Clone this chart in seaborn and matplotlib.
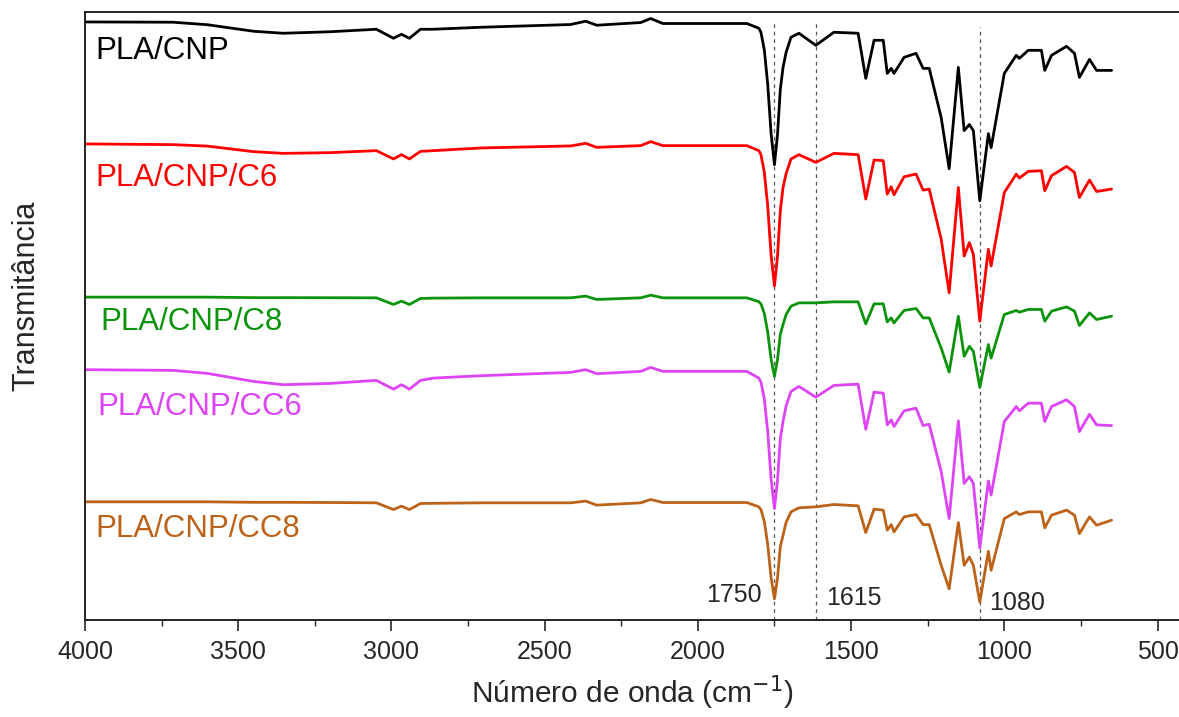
import matplotlib
matplotlib.use("Agg")

import matplotlib.pyplot as plt
import pandas as pd
import seaborn as sns
from matplotlib.ticker import MultipleLocator

# wavenumbers (cm-1) of the points
wavenumber = [4000, 3712, 3600, 3450, 3353, 3200, 3049, 2993, 2967, 2941,
              2905, 2863, 2706, 2415, 2366, 2330, 2186, 2154, 2114, 1840,
              1801, 1794, 1783, 1772, 1761, 1750, 1740, 1731, 1722, 1712,
              1696, 1670, 1615, 1556, 1477, 1452, 1425, 1395, 1382, 1369,
              1360, 1327, 1288, 1265, 1245, 1206, 1180, 1150, 1131, 1114,
              1101, 1080, 1052, 1043, 1000, 961, 951, 922, 879, 868,
              846, 797, 771, 755, 722, 699, 650]

# stacked transmittance (a.u.)
t_cnp = [596.3, 596, 593.5, 587, 585, 586.5, 589, 580, 584, 580,
         589, 589, 591, 593.7, 597, 593, 595.7, 599.7, 594.7, 594.7,
         590, 585.9, 568.2, 534.2, 485.3, 454, 484.1, 528.7, 551, 566,
         581, 585, 573, 586, 585, 540, 578, 578, 545, 550,
         545, 561, 565, 550, 550, 501, 450, 551, 488, 494,
         488, 418, 485, 471, 545, 563, 560, 568, 568, 548,
         563, 572, 565, 541, 559, 548, 548]

t_c6 = [474.7, 474, 472.5, 467, 465.3, 466, 468, 459.7, 464, 459.7,
        467.3, 468, 470.7, 472.7, 475.3, 471.3, 473, 477, 473, 473,
        468, 464, 446.4, 412.7, 364, 333, 363.1, 407.7, 431.3, 445,
        459.7, 464, 456.3, 465.3, 464, 419.7, 458.7, 458, 424.7, 432,
        424, 442, 444.7, 428.7, 429.7, 379.7, 326.3, 431.3, 363, 376.3,
        364.7, 298, 369.7, 353, 426.3, 444.7, 440.7, 447.3, 448, 428,
        443, 452.3, 446.3, 421.3, 438.7, 427.3, 429.7]

t_c8 = [322, 322, 322, 321.5, 321.5, 321.4, 321.3, 314.7, 318, 314.7,
        320.7, 321, 321.3, 321.3, 323, 319.7, 321.3, 324, 321.3, 321.3,
        317.5, 315.3, 305.6, 287, 260.1, 243, 259.9, 284.8, 294.7, 304.6,
        313, 316.3, 316.3, 317.3, 317.3, 295.3, 315.3, 315.3, 297.3, 301.3,
        296.3, 308.7, 310.7, 301.3, 301.3, 271.3, 247.3, 303, 263, 273,
        268, 232, 274.7, 261.3, 304.7, 308.7, 307, 309.7, 309.7, 298,
        308, 312.3, 308, 293.7, 306.3, 299.7, 303]

t_cc6 = [249.7, 249, 246, 238, 234.7, 236, 239, 230.3, 234.7, 230.3,
         239, 241.3, 243.7, 247, 249.7, 245.7, 248, 252, 248, 248,
         241.3, 237.4, 220.5, 188, 141.2, 111.3, 139.3, 180.7, 198, 213.5,
         228, 233, 222.3, 234, 235.3, 190.3, 227.3, 226.3, 194.7, 199.7,
         193, 208.7, 211.3, 194, 195.3, 148, 101.3, 198.7, 136.3, 143,
         136.3, 72, 138.7, 124.7, 198, 213, 208.7, 216.3, 216.3, 198,
         213, 219.7, 213, 188, 205.3, 194.7, 194]

t_cc8 = [118, 118, 118, 117.5, 117.5, 117.3, 117, 110.3, 113.7, 110.3,
         116.3, 116.5, 117, 117, 118.7, 114.7, 117, 120.3, 117.3, 117.3,
         113, 110.2, 98.3, 75.4, 42.4, 21.3, 42.2, 73, 84.7, 97.5,
         108, 112, 113, 115.3, 114, 87.3, 110.7, 109.7, 89.7, 95.3,
         88, 103, 105.3, 95.3, 95.3, 54.7, 31.3, 97.3, 54.7, 63,
         54.7, 18, 68.7, 49.7, 101.3, 108, 105.3, 108, 108, 92,
         104.7, 109.7, 104.7, 86.3, 103, 94.7, 99.7]

samples = ["PLA/CNP", "PLA/CNP/C6", "PLA/CNP/C8", "PLA/CNP/CC6", "PLA/CNP/CC8"]
colors = ["#000000", "#ff0000", "#0b940b", "#dd44f5", "#bd6219"]
marked_bands = [1750, 1615, 1080]
band_labels = ["1750", "1615", "1080"]

series = [t_cnp, t_c6, t_c8, t_cc6, t_cc8]
df = pd.concat(
    [pd.DataFrame({"wavenumber": wavenumber, "T": s, "sample": name})
     for name, s in zip(samples, series)],
    ignore_index=True,
)

sns.set_style("ticks")
plt.rcParams["font.family"] = ["Liberation Sans", "DejaVu Sans"]

fig = plt.figure(figsize=(11.79, 7.17), dpi=100)
ax = fig.add_axes([0.072, 0.135, 0.928, 0.848])

sns.lineplot(data=df, x="wavenumber", y="T", hue="sample", palette=colors,
             estimator=None, sort=False, linewidth=2.0, legend=False, ax=ax)

# reference lines for the marked bands
band_tops = [598, 598, 591]
for w, top in zip(marked_bands, band_tops):
    ax.plot([w, w], [0, top], ls=(0, (3, 3)), color="#555555", lw=0.9, zorder=0)

# sample labels
label_pos = [(3967, 567), (3967, 441), (3951, 297), (3958, 212), (3967, 91)]
for name, c, (x, y) in zip(samples, colors, label_pos):
    ax.text(x, y, name, color=c, fontsize=22.5, va="center", ha="left")

ax.text(1792, 25, band_labels[0], fontsize=18, ha="right", va="center")
ax.text(1580, 22, band_labels[1], fontsize=18, ha="left", va="center")
ax.text(1050, 17, band_labels[2], fontsize=18, ha="left", va="center")

ax.set_xlim(4000, 430)
ax.set_ylim(0, 606)
ax.xaxis.set_major_locator(MultipleLocator(500))
ax.xaxis.set_minor_locator(MultipleLocator(250))
ax.set_yticks([])
ax.tick_params(axis="x", which="major", direction="out", length=8, width=1.2,
               labelsize=18, pad=6)
ax.tick_params(axis="x", which="minor", direction="out", length=4, width=1.0)

for side in ["left", "bottom", "top"]:
    ax.spines[side].set_linewidth(1.4)
    ax.spines[side].set_color("#222222")
ax.spines["right"].set_visible(False)

ax.set_xlabel("Número de onda (cm$^{-1}$)", fontsize=21.5, labelpad=7)
ax.set_ylabel("Transmitância", fontsize=22)
ax.yaxis.set_label_coords(-0.040, 0.533)

fig.savefig("out.png", dpi=100)
plt.close(fig)
